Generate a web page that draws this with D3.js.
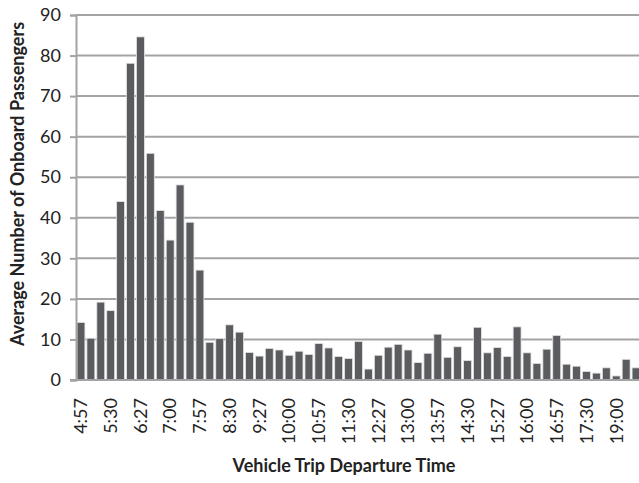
<!DOCTYPE html>
<html>
<head>
<meta charset="utf-8">
<script src="https://cdn.jsdelivr.net/npm/d3@7"></script>
<style>
  html, body { margin: 0; padding: 0; background: #fff; }
  svg { display: block; }
  text { font-family: Lato, "Open Sans", sans-serif; fill: #222; }
</style>
</head>
<body>
<svg id="chart" width="639" height="483"></svg>
<script>
// Average onboard passengers per vehicle trip, in departure order
const passengers = [
  14.2, 10.3, 19.2, 17.1, 44.0, 78.1, 84.6, 55.9, 41.8, 34.5,
  48.1, 38.9, 27.1, 9.3, 10.2, 13.6, 11.8, 6.8, 5.9, 7.8,
  7.4, 6.1, 7.1, 6.3, 9.0, 7.9, 5.8, 5.3, 9.5, 2.7,
  6.1, 8.1, 8.8, 7.4, 4.3, 6.6, 11.3, 5.6, 8.2, 4.8,
  13.0, 6.7, 8.0, 5.8, 13.1, 6.7, 4.1, 7.6, 11.0, 3.9,
  3.4, 2.1, 1.7, 3.0, 1.0, 5.1, 3.0
];
// Departure times shown on the axis (every third trip)
const tickLabels = [
  "4:57", "5:30", "6:27", "7:00", "7:57", "8:30", "9:27", "10:00", "10:57",
  "11:30", "12:27", "13:00", "13:57", "14:30", "15:27", "16:00", "16:57",
  "17:30", "19:00"
];
const labelEvery = 3;
const yTicks = [0, 10, 20, 30, 40, 50, 60, 70, 80, 90];

const svg = d3.select("#chart");
const plotLeft = 76, plotRight = 641, plotTop = 15, plotBottom = 380;

const x = d3.scaleBand()
  .domain(d3.range(passengers.length))
  .range([plotLeft, plotRight])
  .paddingInner(0.2)
  .paddingOuter(0.1);

const y = d3.scaleLinear().domain([0, 90]).range([plotBottom, plotTop]);

// Horizontal gridlines
svg.append("g")
  .selectAll("line")
  .data(yTicks.filter(d => d > 0))
  .join("line")
  .attr("x1", plotLeft).attr("x2", 639)
  .attr("y1", d => y(d)).attr("y2", d => y(d))
  .attr("stroke", "#a3a3a5").attr("stroke-width", 2);

// Bars
svg.append("g")
  .selectAll("rect")
  .data(passengers)
  .join("rect")
  .attr("x", (d, i) => x(i))
  .attr("width", x.bandwidth())
  .attr("y", d => y(d))
  .attr("height", d => y(0) - y(d))
  .attr("fill", "#5b5c60")
  .attr("stroke", "#e4e4e4")
  .attr("stroke-width", 0.8);

// Y axis
const yAxis = svg.append("g")
  .attr("transform", `translate(${plotLeft},0)`)
  .call(d3.axisLeft(y).tickValues(yTicks).tickSize(6).tickPadding(9));
yAxis.select(".domain").attr("stroke", "#a3a3a5").attr("stroke-width", 2);
yAxis.selectAll(".tick line").attr("stroke", "#a3a3a5").attr("stroke-width", 2);
yAxis.selectAll(".tick text")
  .style("font-family", "Lato, sans-serif")
  .style("font-size", "18px")
  .attr("fill", "#222");

// X axis
const xAxis = svg.append("g")
  .attr("transform", `translate(0,${plotBottom})`)
  .call(d3.axisBottom(x)
    .tickValues(d3.range(0, passengers.length, labelEvery).slice(0, tickLabels.length))
    .tickFormat((d, i) => tickLabels[i])
    .tickSize(0));
xAxis.select(".domain").attr("d", `M${plotLeft - 6},0H639`)
  .attr("stroke", "#a3a3a5").attr("stroke-width", 2);
xAxis.selectAll(".tick text")
  .attr("transform", "rotate(-90)")
  .attr("text-anchor", "end")
  .attr("x", -18)
  .attr("y", 0)
  .attr("dy", "0.35em")
  .style("font-family", "Lato, sans-serif")
  .style("font-size", "18px")
  .attr("fill", "#222");

// Axis titles
svg.append("text")
  .attr("x", 344).attr("y", 472)
  .attr("text-anchor", "middle")
  .style("font-weight", "bold")
  .style("font-size", "18px")
  .text("Vehicle Trip Departure Time");

svg.append("text")
  .attr("transform", "translate(24,184) rotate(-90)")
  .attr("text-anchor", "middle")
  .style("font-weight", "bold")
  .style("font-size", "18px")
  .text("Average Number of Onboard Passengers");
</script>
</body>
</html>
